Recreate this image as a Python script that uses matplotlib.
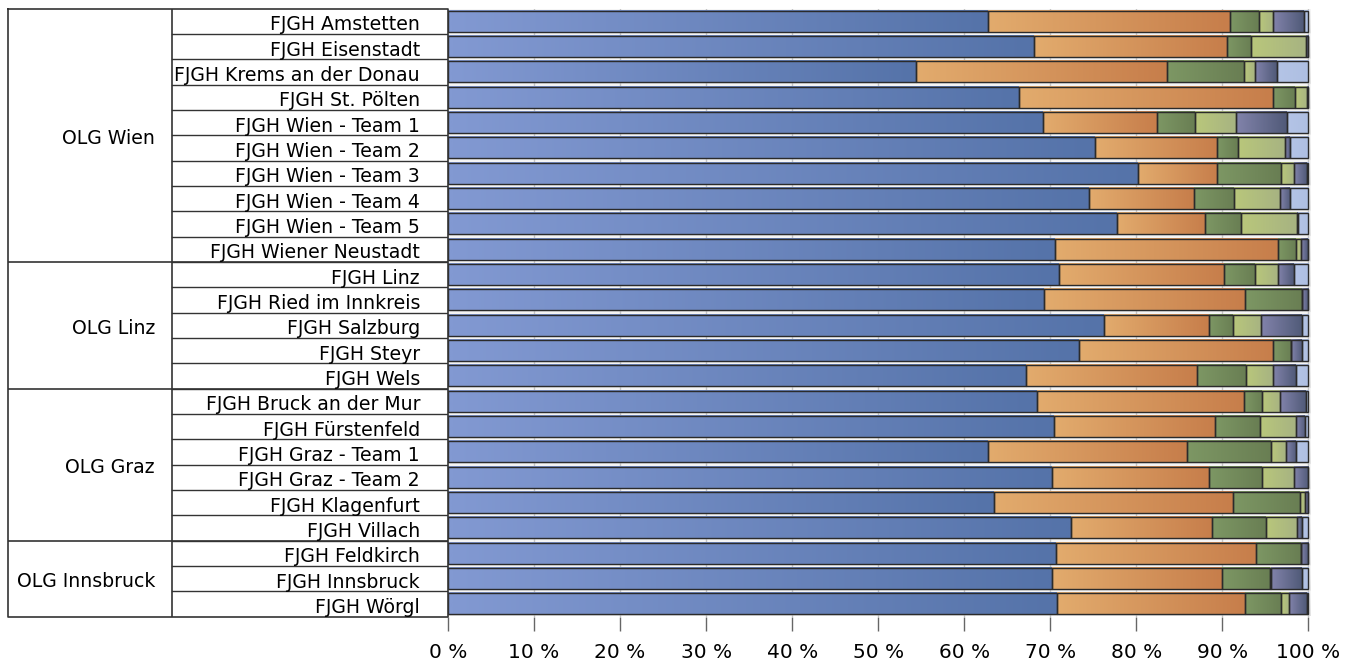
import numpy as np
import matplotlib
matplotlib.use("Agg")
import matplotlib.pyplot as plt
from matplotlib.colors import to_rgb

# Data (share in %, segments stacked left to right)
groups = ["OLG Wien", "OLG Linz", "OLG Graz", "OLG Innsbruck"]
group_sizes = [10, 5, 6, 3]
courts = [
    "FJGH Amstetten", "FJGH Eisenstadt", "FJGH Krems an der Donau", "FJGH St. Pölten",
    "FJGH Wien - Team 1", "FJGH Wien - Team 2", "FJGH Wien - Team 3", "FJGH Wien - Team 4",
    "FJGH Wien - Team 5", "FJGH Wiener Neustadt",
    "FJGH Linz", "FJGH Ried im Innkreis", "FJGH Salzburg", "FJGH Steyr", "FJGH Wels",
    "FJGH Bruck an der Mur", "FJGH Fürstenfeld", "FJGH Graz - Team 1", "FJGH Graz - Team 2",
    "FJGH Klagenfurt", "FJGH Villach",
    "FJGH Feldkirch", "FJGH Innsbruck", "FJGH Wörgl",
]
s_blue = [62.8, 68.1, 54.4, 66.4, 69.1, 75.2, 80.2, 74.5, 77.7, 70.6,
          71.0, 69.3, 76.3, 73.3, 67.2,
          68.4, 70.4, 62.8, 70.2, 63.4, 72.4,
          70.7, 70.2, 70.8]
s_orange = [28.1, 22.4, 29.2, 29.5, 13.3, 14.2, 9.2, 12.2, 10.3, 25.9,
            19.2, 23.3, 12.1, 22.6, 19.9,
            24.1, 18.8, 23.1, 18.3, 27.8, 16.4,
            23.2, 19.7, 21.8]
s_dgreen = [3.3, 2.8, 8.9, 2.5, 4.4, 2.4, 7.4, 4.7, 4.2, 2.0,
            3.6, 6.7, 2.8, 2.1, 5.7,
            2.1, 5.2, 9.8, 6.1, 7.8, 6.3,
            5.2, 5.6, 4.2]
s_lgreen = [1.7, 6.4, 1.3, 1.4, 4.8, 5.5, 1.5, 5.3, 6.5, 0.6,
            2.7, 0.0, 3.3, 0.0, 3.1,
            2.1, 4.1, 1.7, 3.7, 0.6, 3.6,
            0.0, 0.2, 1.0]
s_slate = [3.6, 0.3, 2.5, 0.2, 5.9, 0.6, 1.5, 1.2, 0.1, 0.8,
           1.8, 0.7, 4.8, 1.3, 2.6,
           3.0, 1.1, 1.2, 1.7, 0.4, 0.5,
           0.9, 3.6, 2.0]
s_lblue = [0.5, 0.0, 3.7, 0.0, 2.5, 2.1, 0.2, 2.1, 1.2, 0.1,
           1.7, 0.0, 0.7, 0.7, 1.5,
           0.3, 0.4, 1.4, 0.0, 0.0, 0.8,
           0.0, 0.7, 0.2]
tick_values = [0, 10, 20, 30, 40, 50, 60, 70, 80, 90, 100]
tick_labels = ["0 %", "10 %", "20 %", "30 %", "40 %", "50 %", "60 %", "70 %", "80 %", "90 %", "100 %"]

series = [s_blue, s_orange, s_dgreen, s_lgreen, s_slate, s_lblue]
# (left colour, right colour) of the horizontal gradient
grads = [("#8299d2", "#5573a9"), ("#e2ab6d", "#c77e4b"), ("#7d9764", "#697e53"),
         ("#b9c77b", "#a7b382"), ("#8283ab", "#505a78"), ("#b4c4e6", "#aebfe2")]

W, H = 1353, 666
fig = plt.figure(figsize=(W / 100, H / 100), dpi=100)
top_px, bot_px = 8.5, 616.5
left_px, right_px = 448, 1311
ax = fig.add_axes([left_px / W, 1 - bot_px / H, (right_px - left_px) / W, (bot_px - top_px) / H])
axl = fig.add_axes([8 / W, 1 - bot_px / H, (left_px - 8) / W, (bot_px - top_px) / H])

n = len(courts)
ypos = np.arange(n)
bh = 0.83
fs = 13.6

# background: per-row vertical gradient (white -> light gray)
row = np.linspace(0.965, 0.89, 20)
bg = np.tile(row, n)[:, None]
ax.imshow(np.dstack([bg, bg, bg]), extent=(0, 100.3, n - 0.5, -0.5), aspect="auto",
          interpolation="bilinear", zorder=0)
for t in tick_values[1:]:
    ax.axvline(t, color="#c4c4c4", lw=1, zorder=1)

left = np.zeros(n)
for vals, (c0, c1) in zip(series, grads):
    vals = np.array(vals)
    g = np.linspace(0, 1, 64)[:, None]
    grad = (1 - g) * np.array(to_rgb(c0)) + g * np.array(to_rgb(c1))
    grad = grad[None, :, :]
    for i in range(n):
        if vals[i] <= 0:
            continue
        ax.imshow(grad, extent=(left[i], left[i] + vals[i], i + bh / 2, i - bh / 2),
                  aspect="auto", interpolation="bilinear", zorder=2)
    ax.barh(ypos, vals, left=left, height=bh, fill=False, edgecolor="#2b2b2b",
            linewidth=1.0, zorder=3)
    left += vals

ax.set_xlim(0, 100.3)
ax.set_ylim(n - 0.5, -0.5)
ax.set_yticks([])
ax.set_xticks(tick_values)
ax.set_xticklabels(tick_labels, fontsize=14.5)
ax.tick_params(axis="x", length=10, width=1, color="#666666", pad=9)
for s in ax.spines.values():
    s.set_visible(False)

# label table on the left
axl.set_xlim(0, 440)
axl.set_ylim(n - 0.5, -0.5)
axl.axis("off")
lc = "#333333"
axl.plot([0, 440, 440, 0, 0], [-0.5, -0.5, n - 0.5, n - 0.5, -0.5], color=lc, lw=1.2, clip_on=False)
axl.plot([164, 164], [-0.5, n - 0.5], color=lc, lw=1.2)
for i in range(n - 1):
    axl.plot([164, 440], [i + 0.5, i + 0.5], color=lc, lw=1.0)
start = 0
for g, size in zip(groups, group_sizes):
    if start > 0:
        axl.plot([0, 440], [start - 0.5, start - 0.5], color=lc, lw=1.2)
    axl.text(147, start + (size - 1) / 2 + 0.12, g, ha="right", va="center", fontsize=fs,
             clip_on=False)
    start += size
for i, name in enumerate(courts):
    axl.text(412, i + 0.14, name, ha="right", va="center", fontsize=fs, clip_on=False)

fig.savefig("out.png", dpi=100)
